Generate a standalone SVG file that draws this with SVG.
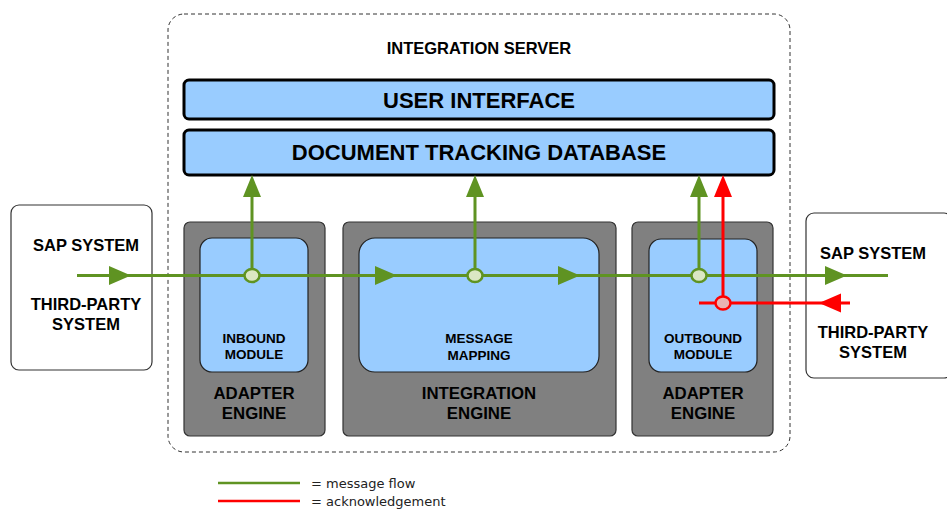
<svg xmlns="http://www.w3.org/2000/svg" width="947" height="510" viewBox="0 0 947 510">
<style>
.b{font-family:"Liberation Sans",Arial,sans-serif;font-weight:bold;fill:#000;text-anchor:middle}
.ext{fill:#fff;stroke:#333;stroke-width:1.2}
.eng{fill:#808080;stroke:#333;stroke-width:1.2}
.mod{fill:#99ccff;stroke:#222;stroke-width:1.2}
.bar{fill:#99ccff;stroke:#000;stroke-width:3}
.g{stroke:#5f9322;stroke-width:3;fill:none}
.r{stroke:#ff0000;stroke-width:3;fill:none}
.ga{fill:#5f9322}
.ra{fill:#ff0000}
.gc{fill:#dbe7c3;stroke:#5f9322;stroke-width:2.5}
.rc{fill:#e9b3b3;stroke:#ff0000;stroke-width:2.5}
.leg{font-family:"DejaVu Sans",Verdana,sans-serif;font-size:13px;fill:#222}
</style>
<rect width="947" height="510" fill="#fff"/>
<g id="integration-server">
<rect x="168" y="14" width="622" height="438" rx="16" fill="none" stroke="#333" stroke-width="1" stroke-dasharray="4,3"/>
<text class="b" x="479" y="54" font-size="16.5">INTEGRATION SERVER</text>
</g>
<g id="user-interface">
<rect class="bar" x="184" y="80" width="590" height="39" rx="5"/>
<text class="b" x="479" y="108" font-size="22">USER INTERFACE</text>
</g>
<g id="document-tracking-database">
<rect class="bar" x="184" y="130" width="590" height="45" rx="5"/>
<text class="b" x="479" y="160" font-size="22">DOCUMENT TRACKING DATABASE</text>
</g>
<g id="sender-system">
<rect class="ext" x="11" y="205" width="141" height="165" rx="8"/>
<text class="b" x="86" y="251" font-size="16.5">SAP SYSTEM</text>
<text class="b" x="86" y="310" font-size="16.5">THIRD-PARTY</text>
<text class="b" x="86" y="330" font-size="16.5">SYSTEM</text>
</g>
<g id="receiver-system">
<rect class="ext" x="806" y="213" width="146" height="165" rx="8"/>
<text class="b" x="873" y="259" font-size="16.5">SAP SYSTEM</text>
<text class="b" x="873" y="338" font-size="16.5">THIRD-PARTY</text>
<text class="b" x="873" y="358" font-size="16.5">SYSTEM</text>
</g>
<g id="adapter-engine-inbound">
<rect class="eng" x="184" y="222" width="141" height="214" rx="6"/>
<rect class="mod" x="200" y="238" width="108" height="134" rx="12"/>
<text class="b" x="254" y="343" font-size="13.5">INBOUND</text>
<text class="b" x="254" y="359" font-size="13.5">MODULE</text>
<text class="b" x="254" y="399" font-size="16.8">ADAPTER</text>
<text class="b" x="254" y="419" font-size="16.8">ENGINE</text>
</g>
<g id="integration-engine">
<rect class="eng" x="343" y="222" width="273" height="214" rx="6"/>
<rect class="mod" x="359" y="238" width="240" height="134" rx="16"/>
<text class="b" x="479" y="343" font-size="13.5">MESSAGE</text>
<text class="b" x="479" y="360" font-size="13.5">MAPPING</text>
<text class="b" x="479" y="399" font-size="16.8">INTEGRATION</text>
<text class="b" x="479" y="419" font-size="16.8">ENGINE</text>
</g>
<g id="adapter-engine-outbound">
<rect class="eng" x="632" y="222" width="141" height="214" rx="6"/>
<rect class="mod" x="649" y="239" width="108" height="133" rx="12"/>
<text class="b" x="703" y="343" font-size="13.5">OUTBOUND</text>
<text class="b" x="703" y="359" font-size="13.5">MODULE</text>
<text class="b" x="703" y="399" font-size="16.8">ADAPTER</text>
<text class="b" x="703" y="419" font-size="16.8">ENGINE</text>
</g>
<g id="connectors">
<path class="g" d="M77,275.5H888M252,275.5V196M475,275.5V196M699,275.5V196"/>
<path class="r" d="M699,303H850M723,303V194"/>
<polygon class="ga" points="109,266 131,275.5 109,285"/>
<polygon class="ga" points="375,266 397,275.5 375,285"/>
<polygon class="ga" points="558,266 580,275.5 558,285"/>
<polygon class="ga" points="825,266 847,275.5 825,285"/>
<polygon class="ga" points="243,197 252,175 261,197"/>
<polygon class="ga" points="466,197 475,175 484,197"/>
<polygon class="ga" points="690,197 699,175 708,197"/>
<polygon class="ra" points="714,197 723,175 732,197"/>
<polygon class="ra" points="841,293.5 819,303 841,312.5"/>
<ellipse class="gc" cx="252" cy="275.5" rx="7.5" ry="6.5"/>
<ellipse class="gc" cx="475" cy="275.5" rx="7.5" ry="6.5"/>
<ellipse class="gc" cx="699" cy="275.5" rx="7.5" ry="6.5"/>
<ellipse class="rc" cx="723" cy="303" rx="7.5" ry="6.5"/>
</g>
<g id="legend">
<line x1="218" y1="483" x2="300" y2="483" stroke="#5f9322" stroke-width="2.5"/>
<line x1="218" y1="501" x2="300" y2="501" stroke="#ff0000" stroke-width="2.5"/>
<text class="leg" x="311" y="488">= message flow</text>
<text class="leg" x="311" y="506">= acknowledgement</text>
</g>
</svg>
